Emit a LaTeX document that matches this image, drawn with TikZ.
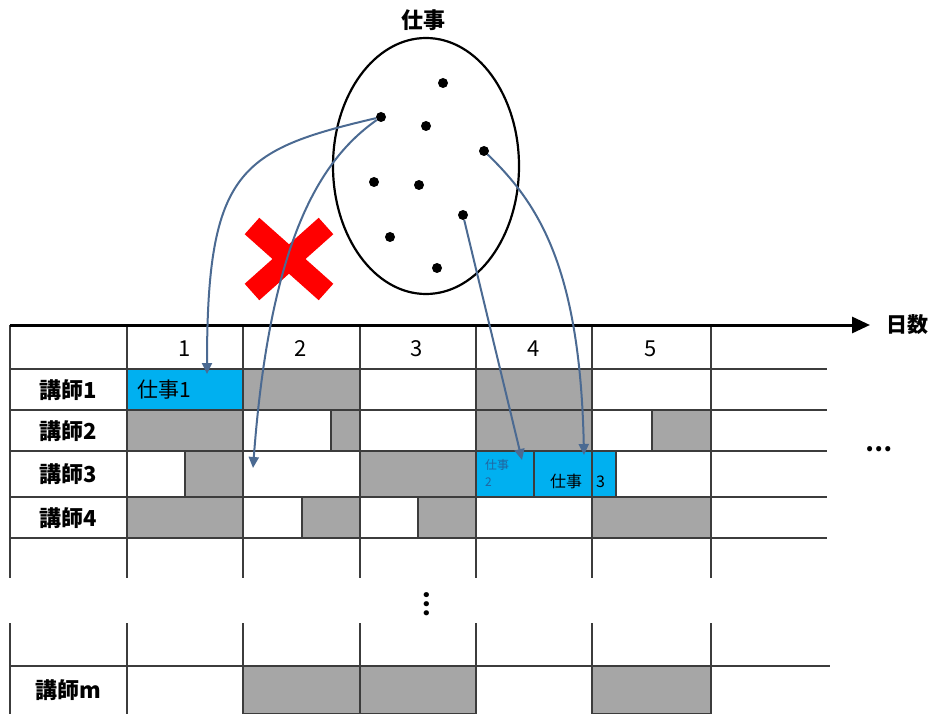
\documentclass[tikz,border=0pt]{standalone}
\usepackage{fontspec}
\setmainfont{Noto Sans CJK JP}
\usetikzlibrary{arrows.meta,shapes.geometric}
\definecolor{busygray}{HTML}{A6A6A6}
\definecolor{jobblue}{HTML}{00B0F0}
\definecolor{arrowblue}{HTML}{4B6A92}
\definecolor{gridgray}{HTML}{3C3C3C}
\definecolor{smalltext}{HTML}{22649E}
\tikzset{
  grid line/.style={gridgray,line width=1.3pt},
  busy cell/.style={fill=busygray,draw=gridgray,line width=1.3pt},
  job cell/.style={fill=jobblue,draw=gridgray,line width=1.3pt},
  job dot/.style={circle,fill=black,minimum size=10pt,inner sep=0pt},
  assign arrow/.style={arrowblue,line width=2pt,-{Triangle[length=11pt,width=10pt]}},
  row label/.style={font=\fontsize{22}{24}\selectfont\bfseries},
  day label/.style={font=\fontsize{22}{24}\selectfont}
}
\newcommand{\busyat}[4]{%
  \draw[busy cell] (#1,#2) rectangle (#3,#4);%
}

\begin{document}
\begin{tikzpicture}[x=1pt,y=-1pt]
  \useasboundingbox (0,0) rectangle (935,714);
  % occupied slots
  \busyat{243}{369}{360}{410}
  \busyat{476}{369}{592}{410}
  \busyat{127}{410}{243}{451}
  \busyat{331}{410}{360}{451}
  \busyat{476}{410}{592}{451}
  \busyat{652}{410}{711}{451}
  \busyat{185}{451}{243}{497}
  \busyat{360}{451}{476}{497}
  \busyat{127}{497}{243}{538}
  \busyat{302}{497}{360}{538}
  \busyat{418}{497}{476}{538}
  \busyat{592}{497}{711}{538}
  \busyat{243}{666}{476}{714}
  \busyat{592}{666}{711}{714}
  % assigned jobs
  \draw[job cell] (127,369) rectangle (243,410);
  \draw[job cell] (476,451) rectangle (534,497);
  \draw[job cell] (534,451) rectangle (616,497);
  \node[font=\fontsize{21}{24}\selectfont,anchor=west] (job1) at (134,390) {仕事1};
  \node[font=\fontsize{12}{17}\selectfont,text=smalltext,align=left,anchor=north west,inner sep=0pt] (job2) at (485,459) {仕事\\2};
  \node[font=\fontsize{16}{18}\selectfont,anchor=west,inner sep=0pt] (job3) at (550,481) {仕事\hspace{14pt}3};
  % grid
  \foreach \y in {369,410,451,497,538}
    \draw[grid line] (10,\y) -- (827,\y);
  \draw[grid line] (10,666) -- (830,666);
  \foreach \x in {10,127,243,360,476,592,711} {
    \draw[grid line] (\x,325) -- (\x,578);
    \draw[grid line] (\x,623) -- (\x,714);
  }
  % day axis
  \node[font=\fontsize{21}{24}\selectfont\bfseries,anchor=west,inner sep=2pt] (days) at (884,325) {日数};
  \draw[line width=3pt,-{Triangle[length=18pt,width=16pt]},shorten >=14pt] (10,325) -- (days.west);
  \foreach \n/\x in {1/185,2/301,3/417,4/534,5/651}
    \node[day label] (d\n) at (\x,349) {\n};
  \foreach \n/\y in {1/390,2/431,3/474,4/518}
    \node[row label] (t\n) at (68,\y) {講師\n};
  \node[row label] (tm) at (68,690) {講師m};
  \node[font=\fontsize{24}{24}\selectfont\bfseries,rotate=-90] (vdots) at (427,604) {…};
  \node[font=\fontsize{24}{24}\selectfont\bfseries] (hdots) at (879,449) {…};
  % job pool
  \node[draw,ellipse,minimum width=186pt,minimum height=256pt,line width=2.2pt] (pool) at (426,166) {};
  \node[font=\fontsize{22}{24}\selectfont\bfseries] (pooltitle) at (423,20) {仕事};
  \foreach \n/\x/\y in {a/443/83,b/381/117,c/426/126,d/484/151,e/374/182,f/419/185,g/463/215,h/390/237,i/437/268}
    \node[job dot] (j\n) at (\x,\y) {};
  % rejected assignment
  \draw[red,line width=22pt] (252,226) -- (326,292) (326,226) -- (252,292);
  \coordinate (to1) at (207,374);
  \coordinate (to2) at (253,468);
  \coordinate (to3) at (522,460);
  \coordinate (to4) at (584,455);
  \draw[assign arrow] (jb) .. controls (240,150) and (207,170) .. (to1);
  \draw[assign arrow] (jb) .. controls (320,160) and (270,240) .. (to2);
  \draw[assign arrow] (jg) -- (to3);
  \draw[assign arrow] (jd) .. controls (540,205) and (580,270) .. (to4);
\end{tikzpicture}
\end{document}
